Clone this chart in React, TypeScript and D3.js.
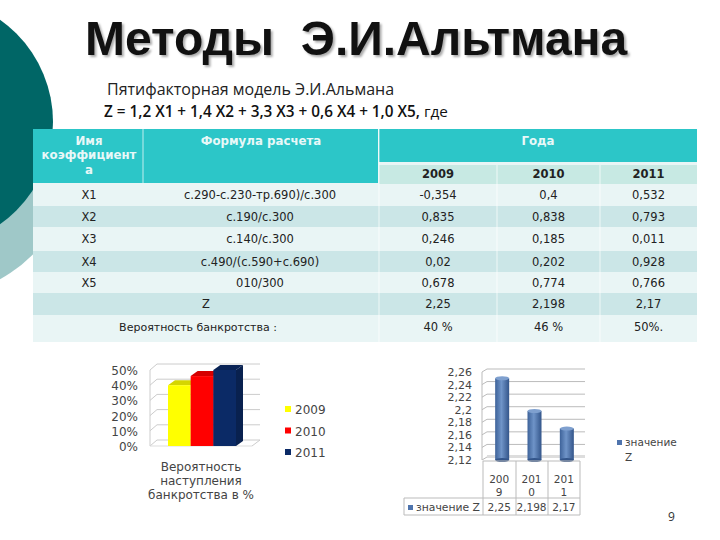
import React from "react";
import * as d3 from "d3";

const years = ["2009", "2010", "2011"];
const rowNames = ["X1", "X2", "X3", "X4", "X5"];
const formulas = [
  "с.290-с.230-тр.690)/с.300",
  "с.190/с.300",
  "с.140/с.300",
  "с.490/(с.590+с.690)",
  "010/300",
];
const x2009 = ["-0,354", "0,835", "0,246", "0,02", "0,678", "2,25", "40 %"];
const x2010 = ["0,4", "0,838", "0,185", "0,202", "0,774", "2,198", "46 %"];
const x2011 = ["0,532", "0,793", "0,011", "0,928", "0,766", "2,17", "50%."];
const probValues = [40, 46, 50];
const probTicks = [0, 10, 20, 30, 40, 50];
const probColors = ["#ffff00", "#ff0000", "#0b2a66"];
const zValues = [2.25, 2.198, 2.17];
const zLabels = ["2,25", "2,198", "2,17"];
const zTicks = [2.12, 2.14, 2.16, 2.18, 2.2, 2.22, 2.24, 2.26];

const rowEdges = [184, 206, 227, 251, 272, 293, 315, 342];
const colEdges = [33, 143, 379, 497, 600, 697];
const sans = "'DejaVu Sans', Verdana, sans-serif";

const probY = d3.scaleLinear().domain([0, 50]).range([446, 370]);
const probX = d3.scaleBand().domain(years).range([168, 236]);
const zY = d3.scaleLinear().domain([2.12, 2.26]).range([460, 372]);
const zX = d3.scaleBand().domain(years).range([483, 580]);

const App = () => {
  const cols = [x2009, x2010, x2011];
  return (
    <svg
      width={720}
      height={540}
      style={{ position: "absolute", left: 0, top: 0, background: "#fff" }}
    >
      <defs>
        <linearGradient id="cyl" x1="0" x2="1" y1="0" y2="0">
          <stop offset="0" stopColor="#3d6299" />
          <stop offset="0.45" stopColor="#6f94c8" />
          <stop offset="1" stopColor="#33558a" />
        </linearGradient>
        <clipPath id="lower">
          <rect x={0} y={170} width={60} height={130} />
        </clipPath>
      </defs>

      {/* background circles */}
      <circle cx={-72} cy={150} r={148} fill="#9fc8c8" clipPath="url(#lower)" />
      <circle cx={-72} cy={122} r={125} fill="#006666" />

      {/* title */}
      <text
        x={85}
        y={55}
        fontFamily="'Liberation Sans', Arial, sans-serif"
        fontWeight="bold"
        fontSize={48}
        fill="#111"
        style={{ whiteSpace: "pre", filter: "drop-shadow(2px 2px 1px #aaa)" }}
      >
        Методы  Э.И.Альтмана
      </text>
      <text x={107} y={95} fontFamily="'Open Sans', sans-serif" fontSize={16} fill="#222">
        Пятифакторная модель Э.И.Альмана
      </text>
      <text x={104} y={117} fontFamily="'Open Sans', sans-serif" fontSize={15.3} fontWeight="600" fill="#111">
        Z = 1,2 X1 + 1,4 X2 + 3,3 X3 + 0,6 X4 + 1,0 X5,
        <tspan fontWeight="400"> где</tspan>
      </text>

      {/* table */}
      <rect x={33} y={129} width={664} height={213} fill="#e9f5f5" />
      <rect x={33} y={129} width={345} height={54} fill="#2cc6c8" />
      <rect x={379} y={129} width={318} height={33} fill="#2cc6c8" />
      <rect x={379} y={165} width={318} height={19} fill="#c7e9e3" />
      {[1, 3, 5].map((i) => (
        <rect
          key={i}
          x={33}
          y={rowEdges[i]}
          width={664}
          height={rowEdges[i + 1] - rowEdges[i]}
          fill="#cbe6e7"
        />
      ))}
      {[143, 379, 497, 600].map((x) => (
        <line
          key={x}
          x1={x}
          x2={x}
          y1={x > 400 ? 165 : 129}
          y2={x === 143 ? 183 : 342}
          stroke="#fff"
          strokeWidth={1}
          opacity={0.7}
        />
      ))}
      <g fontFamily={sans} fontSize={11.8} fontWeight="bold" fill="#e8f8f8" textAnchor="middle">
        <text x={89} y={145}>Имя</text>
        <text x={89} y={159}>коэффициент</text>
        <text x={89} y={174}>а</text>
        <text x={261} y={145}>Формула расчета</text>
        <text x={538} y={145}>Года</text>
      </g>
      <g fontFamily={sans} fontSize={11.5} fill="#222" textAnchor="middle">
        {years.map((y, j) => (
          <text
            key={y}
            x={(colEdges[j + 2] + colEdges[j + 3]) / 2}
            y={178}
            fontWeight="bold"
          >
            {y}
          </text>
        ))}
        {rowNames.map((n, i) => (
          <g key={n}>
            <text x={89} y={(rowEdges[i] + rowEdges[i + 1]) / 2 + 4}>{n}</text>
            <text x={260} y={(rowEdges[i] + rowEdges[i + 1]) / 2 + 4}>{formulas[i]}</text>
          </g>
        ))}
        <text x={206} y={308}>Z</text>
        <text x={198} y={331} fontSize={11}>Вероятность банкротства :</text>
        {cols.map((col, j) =>
          col.map((v, i) => (
            <text
              key={j + "-" + i}
              x={(colEdges[j + 2] + colEdges[j + 3]) / 2}
              y={i === 6 ? 331 : (rowEdges[i] + rowEdges[i + 1]) / 2 + 4}
            >
              {v}
            </text>
          ))
        )}
      </g>

      {/* probability chart */}
      <g>
        {probTicks.map((t) => (
          <g key={t}>
            <line x1={150} x2={157} y1={probY(t)} y2={probY(t) - 6} stroke="#ccc" />
            <line x1={157} x2={260} y1={probY(t) - 6} y2={probY(t) - 6} stroke="#ccc" />
            <text x={138} y={probY(t) + 5} textAnchor="end" fontFamily={sans} fontSize={12} fill="#444">
              {t}%
            </text>
          </g>
        ))}
        <line x1={150} x2={150} y1={probY(0)} y2={probY(50)} stroke="#ccc" />
        <line x1={150} x2={252} y1={probY(0)} y2={probY(0)} stroke="#ddd" />
        <line x1={252} x2={260} y1={probY(0)} y2={probY(0) - 6} stroke="#ccc" />
        {probValues.map((v, i) => {
          const x = probX(years[i]) as number;
          const w = probX.bandwidth();
          const top = probY(v);
          const bottom = probY(0);
          const dx = 7;
          const dy = 5;
          return (
            <g key={years[i]}>
              <path
                d={`M${x + w},${top} l${dx},${-dy} V${bottom - dy} l${-dx},${dy} Z`}
                fill={d3.color(probColors[i])!.darker(0.7).toString()}
              />
              <path
                d={`M${x},${top} l${dx},${-dy} h${w} l${-dx},${dy} Z`}
                fill={d3.color(probColors[i])!.darker(0.5).toString()}
              />
              <rect x={x} y={top} width={w} height={bottom - top} fill={probColors[i]} />
            </g>
          );
        })}
        <g fontFamily={sans} fontSize={12} fill="#444" textAnchor="middle">
          <text x={201} y={471}>Вероятность</text>
          <text x={201} y={485}>наступления</text>
          <text x={201} y={499}>банкротства в %</text>
        </g>
        {years.map((y, i) => (
          <g key={y}>
            <rect x={285} y={406 + i * 21.5} width={6} height={6} fill={probColors[i]} />
            <text x={295} y={414 + i * 21.5} fontFamily={sans} fontSize={12} fill="#444">
              {y}
            </text>
          </g>
        ))}
      </g>

      {/* Z chart */}
      <g>
        {zTicks.map((t) => (
          <g key={t}>
            <line x1={482} x2={487} y1={zY(t)} y2={zY(t) - 3} stroke="#bbb" />
            <line x1={487} x2={585} y1={zY(t) - 3} y2={zY(t) - 3} stroke="#bbb" />
            <text x={472} y={zY(t) + 4} textAnchor="end" fontFamily={sans} fontSize={11} fill="#444">
              {String(t).replace(".", ",")}
            </text>
          </g>
        ))}
        <line x1={482} x2={482} y1={zY(2.26)} y2={zY(2.12)} stroke="#bbb" />
        <rect x={487} y={455} width={98} height={2} fill="#ddd" />
        {zValues.map((v, i) => {
          const w = 14;
          const cx = (zX(years[i]) as number) + zX.bandwidth() / 2 + 3;
          return (
            <g key={years[i]}>
              <rect x={cx - w / 2} y={zY(v)} width={w} height={zY(2.12) - zY(v)} fill="url(#cyl)" />
              <ellipse cx={cx} cy={zY(v)} rx={w / 2} ry={2} fill="#7fa0cf" />
              <ellipse cx={cx} cy={zY(2.12)} rx={w / 2} ry={2} fill="#33558a" />
            </g>
          );
        })}
        <g stroke="#bbb" fill="none">
          <line x1={483} x2={483} y1={461} y2={515} />
          <line x1={516} x2={516} y1={461} y2={515} />
          <line x1={548} x2={548} y1={461} y2={515} />
          <line x1={580} x2={580} y1={461} y2={515} />
          <line x1={483} x2={580} y1={461} y2={461} />
          <line x1={404} x2={580} y1={498} y2={498} />
          <line x1={404} x2={580} y1={515} y2={515} />
          <line x1={404} x2={404} y1={498} y2={515} />
        </g>
        <g fontFamily={sans} fontSize={10.5} fill="#444" textAnchor="middle">
          {years.map((y, i) => (
            <g key={y}>
              <text x={(zX(y) as number) + zX.bandwidth() / 2} y={483}>{y.slice(0, 3)}</text>
              <text x={(zX(y) as number) + zX.bandwidth() / 2} y={496}>{y.slice(3)}</text>
              <text x={(zX(y) as number) + zX.bandwidth() / 2} y={511}>{zLabels[i]}</text>
            </g>
          ))}
        </g>
        <rect x={408} y={505} width={5} height={5} fill="#4f74ad" />
        <text x={416} y={511} fontFamily={sans} fontSize={10.8} fill="#444">значение Z</text>
        <rect x={617} y={440} width={5} height={5} fill="#4f74ad" />
        <text x={625} y={446} fontFamily={sans} fontSize={10.5} fill="#444">значение</text>
        <text x={625} y={461} fontFamily={sans} fontSize={10.5} fill="#444">Z</text>
      </g>

      <text x={668} y={521} fontFamily="'Open Sans', sans-serif" fontSize={12} fill="#333">9</text>
    </svg>
  );
};

export default App;
